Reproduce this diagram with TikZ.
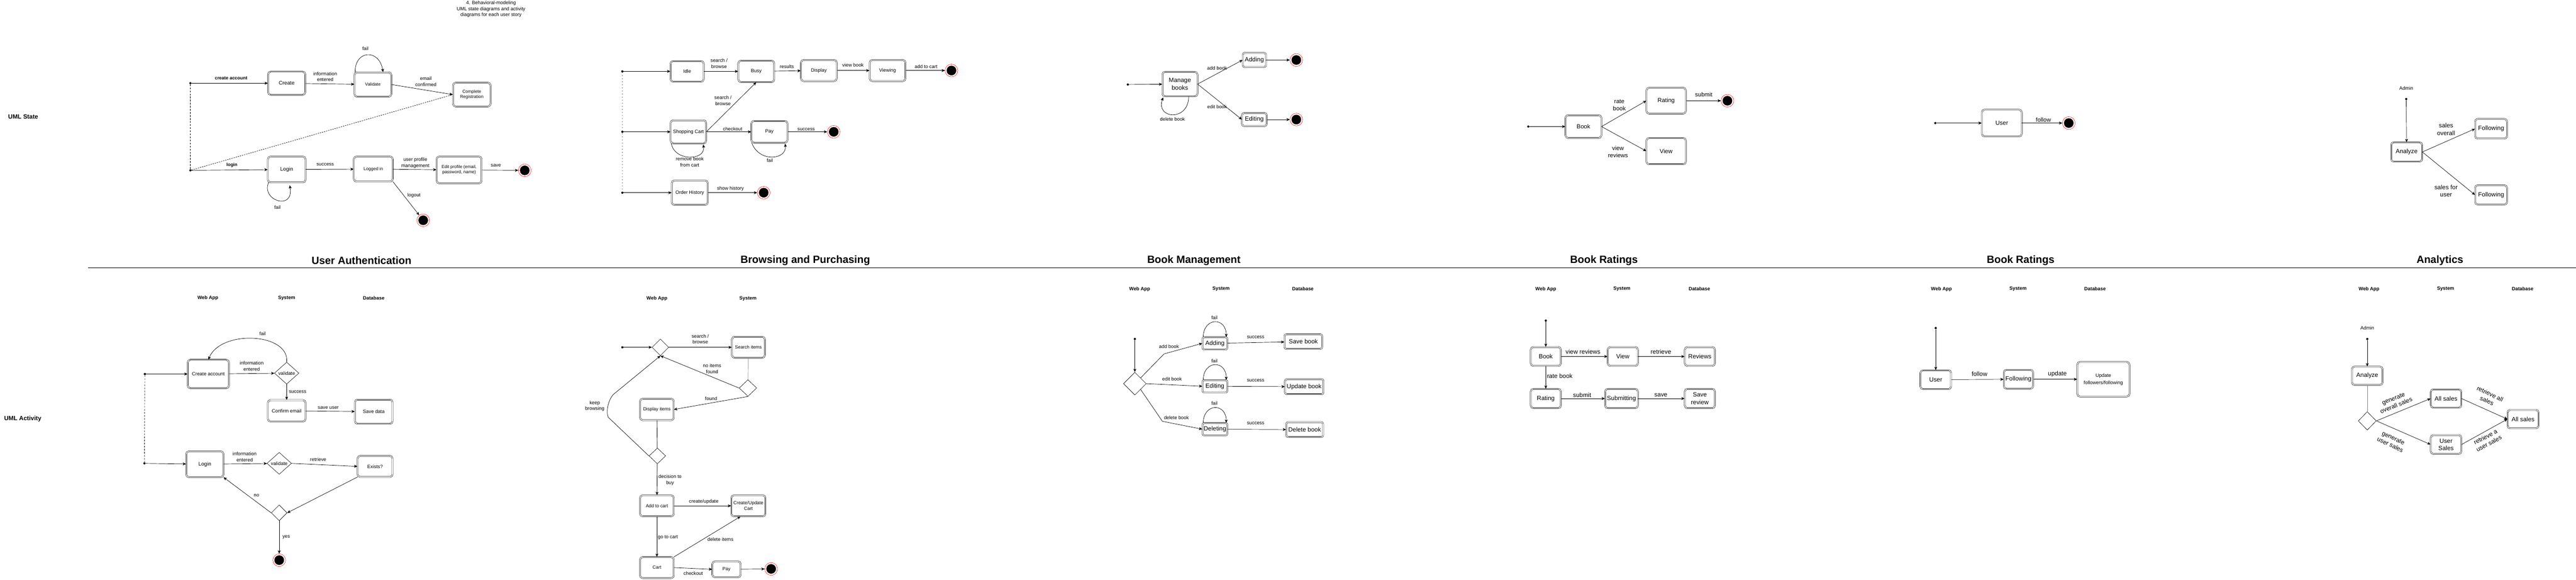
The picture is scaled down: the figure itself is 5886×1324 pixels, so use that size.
\documentclass[tikz,border=0pt]{standalone}
\usepackage{fontspec}
\setmainfont{Liberation Sans}
\usetikzlibrary{arrows.meta,shapes.geometric,positioning}
\newcommand\ftA{\fontsize{10}{12}\selectfont}
\newcommand\ftAh{\fontsize{10.5}{13}\selectfont}
\newcommand\ftB{\fontsize{11}{13.5}\selectfont}
\newcommand\ftC{\fontsize{12}{14.5}\selectfont}
\newcommand\ftD{\fontsize{13.5}{16.5}\selectfont}
\newcommand\ftE{\fontsize{14}{17}\selectfont}
\tikzset{
  box/.style={draw, line width=0.7pt, double, double distance=1.8pt, rounded corners=6pt, fill=white, align=center, inner sep=1pt, font=\ftB},
  wh/.style 2 args={minimum width=#1pt, minimum height=#2pt},
  bar/.style={draw=gray!90, line width=2.4pt, shorten <=5pt, shorten >=5pt},
  barh/.style={append after command={(\tikzlastnode.north west) edge[bar] (\tikzlastnode.north east) (\tikzlastnode.south west) edge[bar] (\tikzlastnode.south east)}},
  barb/.style={append after command={(\tikzlastnode.south west) edge[bar] (\tikzlastnode.south east)}},
  barv/.style={append after command={(\tikzlastnode.north west) edge[bar] (\tikzlastnode.south west) (\tikzlastnode.north east) edge[bar] (\tikzlastnode.south east)}},
  init/.style={circle, fill=black, inner sep=0pt, minimum size=5pt},
  final/.style={circle, draw=red, line width=0.6pt, fill=white, inner sep=0pt, minimum size=29pt, path picture={\fill[black] (path picture bounding box.center) circle (11pt);}},
  choice/.style={diamond, draw, line width=0.7pt, fill=white, inner sep=0pt, align=center, font=\ftB},
  lbl/.style={align=center, inner sep=1pt, font=\ftB},
  hd/.style={font=\ftB\bfseries},
  ttl/.style={font=\fontsize{24}{28}\selectfont\bfseries},
  flow/.style={line width=0.8pt, -{Stealth[length=7.5pt, width=6.5pt, inset=2pt]}},
  link/.style={line width=0.8pt}
}
\begin{document}
\begin{tikzpicture}[x=1pt, y=-1pt]
        \useasboundingbox (0,0) rectangle (5886,1324);
        \node[lbl] (header) at (1122,21) {4. Behavioral-modeling\\UML state diagrams and activity\\diagrams for each user story};
        \node[font=\ftE\bfseries] (umlstate) at (53,266) {UML State};
        \node[font=\ftE\bfseries] (umlactivity) at (52,956) {UML Activity};
        \draw[link] (201,611) -- (5886,611);
        \node[ttl] (ttlauth) at (826,595) {User Authentication};
        \node[ttl] (ttlbrowse) at (1840,595) {Browsing and Purchasing};
        \node[ttl] (ttlbooks) at (2728,595) {Book Management};
        \node[ttl] (ttlrate) at (3665,595) {Book Ratings};
        \node[ttl] (ttlfollow) at (4617,595) {Book Ratings};
        \node[ttl] (ttlstats) at (5575,595) {Analytics};

        \node[init] (ua1) at (435,190) {};
        \node[init] (ua2) at (435,389) {};
        \node[box, wh={85}{53}, barh, font=\ftC] (create) at (655,190) {Create};
        \node[box, wh={84}{56}, barb, font=\ftA] (validate) at (852,193) {Validate};
        \node[box, wh={86}{54}, font=\ftA] (complete) at (1078,216) {Complete\\Registration};
        \node[box, wh={86}{59}, font=\ftC] (login) at (655,387) {Login};
        \node[box, wh={89}{57}, font=\ftA] (loggedin) at (853,386) {Logged in};
        \node[box, wh={103}{61}, font=\ftA] (editprofile) at (1049,388) {Edit profile (email,\\password, name)};
        \node[final] (uaend1) at (1199,389) {};
        \node[final] (uaend2) at (967,503) {};
        \draw[link, dash pattern=on 4pt off 3pt] (ua1) -- (ua2);
        \draw[flow] (ua1) -- (create);
        \draw[flow] (create) -- (validate);
        \draw[flow] (validate.east) -- (complete.west);
        \draw[link, dash pattern=on 3pt off 2pt] (ua2) -- (complete.west);
        \draw[flow] (ua2) -- (login);
        \draw[flow] (login) -- (loggedin);
        \draw[flow] (loggedin) -- (editprofile);
        \draw[flow] (editprofile) -- (uaend1);
        \draw[flow] (loggedin.south east) -- (uaend2);
        \draw[flow] ([xshift=2pt]validate.north west) .. controls (810,115) and (866,110) .. ([xshift=-19pt]validate.north east);
        \draw[flow] ([xshift=2pt]login.south west) .. controls (596,458) and (672,482) .. (662,423);
        \node[lbl, font=\ftAh\bfseries] (lblcreate) at (528,178) {create account};
        \node[lbl] (lblinfo) at (743,175) {information\\entered};
        \node[lbl] (lblfail) at (835,111) {fail};
        \node[lbl] (lblemail) at (973,186) {email\\confirmed};
        \node[lbl, font=\ftAh\bfseries] (lbllogin) at (530,377) {login};
        \node[lbl] (lblsuccess) at (743,376) {success};
        \node[lbl] (lblprofile) at (949,372) {user profile\\management};
        \node[lbl] (lblsave) at (1133,378) {save};
        \node[lbl] (lbllogout) at (946,446) {logout};
        \node[lbl] (lblfail2) at (634,474) {fail};

        \node[init] (br1) at (1422,163) {};
        \node[init] (br2) at (1422,301) {};
        \node[init] (br3) at (1422,440) {};
        \node[box, wh={76}{47}, barh] (idle) at (1570,163) {Idle};
        \node[box, wh={82}{49}, barh] (busy) at (1728,163) {Busy};
        \node[box, wh={82}{48}] (display) at (1871,161) {Display};
        \node[box, wh={82}{48}] (viewing) at (2028,161) {Viewing};
        \node[final] (brend1) at (2174,161) {};
        \node[box, wh={81}{53}, barb] (cart) at (1573,301) {Shopping Cart};
        \node[box, wh={82}{50}, barh] (pay) at (1758,301) {Pay};
        \node[final] (brend2) at (1905,301) {};
        \node[box, wh={82}{56}] (history) at (1576,440) {Order History};
        \node[final] (brend3) at (1745,440) {};
        \draw[line width=1.6pt, line cap=round, dash pattern=on 0pt off 7pt] (br1) -- (br3);
        \draw[flow] (br1) -- (idle);
        \draw[flow] (idle) -- (busy);
        \draw[flow] (busy) -- (display);
        \draw[flow] (display) -- (viewing);
        \draw[flow] (viewing) -- (brend1);
        \draw[flow] (br2) -- (cart);
        \draw[flow] (cart.east) -- (busy.south);
        \draw[flow] (cart) -- (pay);
        \draw[flow] (pay) -- (brend2);
        \draw[flow] (br3) -- (history);
        \draw[flow] (history) -- (brend3);
        \draw[flow] ([xshift=2pt]cart.south west) .. controls (1540,368) and (1612,368) .. (1607,330);
        \draw[flow] ([xshift=1pt]pay.south west) .. controls (1735,372) and (1798,365) .. (1794,328);
        \node[lbl] (lblsearch) at (1643,145) {search /\\browse};
        \node[lbl] (lblresults) at (1798,152) {results};
        \node[lbl] (lblview) at (1949,149) {view book};
        \node[lbl] (lbladd) at (2116,152) {add to cart};
        \node[lbl] (lblsearch2) at (1652,230) {search /\\browse};
        \node[lbl] (lblcheckout) at (1674,294) {checkout};
        \node[lbl] (lblpaid) at (1842,295) {success};
        \node[lbl] (lblremove) at (1576,370) {remove book\\from cart};
        \node[lbl] (lblpayfail) at (1759,366) {fail};
        \node[lbl] (lblhistory) at (1669,431) {show history};

        \node[init] (bm0) at (2577,193) {};
        \node[box, wh={80}{56}, barh, font=\ftE] (manage) at (2696,192) {Manage\\books};
        \node[box, wh={53}{32}, rounded corners=4pt, font=\ftE] (adding) at (2866,137) {Adding};
        \node[box, wh={56}{29}, rounded corners=4pt, font=\ftE] (editing) at (2866,273) {Editing};
        \node[final] (bmend1) at (2962,137) {};
        \node[final] (bmend2) at (2962,273) {};
        \draw[flow] (bm0) -- (manage);
        \draw[flow] (manage.east) -- (adding.west);
        \draw[flow] (manage.east) -- (editing.west);
        \draw[flow] (adding) -- (bmend1);
        \draw[flow] (editing) -- (bmend2);
        \draw[flow] ([xshift=20pt]manage.south) .. controls (2716,278) and (2640,272) .. ([xshift=2pt, yshift=-2pt]manage.south west);
        \node[lbl] (lbladdbook) at (2781,155) {add book};
        \node[lbl] (lbleditbook) at (2781,244) {edit book};
        \node[lbl] (lbldelbook) at (2679,272) {delete book};

        \node[init] (rt0) at (3492,289) {};
        \node[box, wh={82}{52}, font=\ftD] (book) at (3618,289) {Book};
        \node[box, wh={90}{59}, font=\ftD] (rating) at (3807,230) {Rating};
        \node[box, wh={90}{60}, barh, font=\ftD] (view) at (3807,345) {View};
        \node[final] (rtend) at (3947,230) {};
        \draw[flow] (rt0) -- (book);
        \draw[flow] (book.east) -- (rating.west);
        \draw[flow] (book.east) -- (view.west);
        \draw[flow] (rating) -- (rtend);
        \node[lbl, font=\ftD] (lblrate) at (3700,240) {rate\\book};
        \node[lbl, font=\ftD] (lblreviews) at (3697,347) {view\\reviews};
        \node[lbl, font=\ftD] (lblsubmit) at (3893,216) {submit};
        \node[init] (fw0) at (4422,281) {};
        \node[box, wh={91}{61}, font=\ftD] (user) at (4574,281) {User};
        \node[final] (fwend) at (4727,281) {};
        \draw[flow] (fw0) -- (user);
        \draw[flow] (user) -- (fwend);
        \node[lbl, font=\ftD] (lblfollow) at (4669,273) {follow};

        \node[lbl] (admin) at (5498,201) {Admin};
        \node[init] (an0) at (5498,226) {};
        \node[box, wh={71}{44}, barh, barv, font=\ftE] (analyze) at (5499,347) {Analyze};
        \node[box, wh={73}{45}, font=\ftE] (follow1) at (5692,294) {Following};
        \node[box, wh={73}{44}, font=\ftE] (follow2) at (5692,445) {Following};
        \draw[flow] (an0) -- (analyze);
        \draw[flow] (analyze.east) -- (follow1.west);
        \draw[flow] (analyze.east) -- (follow2.west);
        \node[lbl, font=\ftE] (lbloverall) at (5589,295) {sales\\overall};
        \node[lbl, font=\ftE] (lblforuser) at (5589,436) {sales for\\user};

        \foreach \grp/\xa/\xb/\xc/\yy in {ua/475/655/854/681, bm/2604/2790/2977/660, rt/3532/3706/3883/660, fw/4436/4611/4787/660, an/5413/5588/5764/660}{
          \node[hd] (\grp webapp) at (\xa,\yy) {Web App};
          \node[hd] (\grp system) at (\xb,\yy) {System};
          \node[hd] (\grp database) at (\xc,\yy) {Database};
        }
        \node[hd] (brwebapp) at (1501,682) {Web App};
        \node[hd] (brsystem) at (1709,682) {System};

        \node[init] (uaa1) at (331,854) {};
        \node[init] (uaa2) at (330,1058) {};
        \node[box, wh={94}{65}, barh] (createacc) at (476,854) {Create account};
        \node[choice, wh={56}{50}] (check1) at (655,852) {validate};
        \node[box, wh={86}{49}] (confirm) at (655,938) {Confirm email};
        \node[box, wh={86}{55}, barh] (savedata) at (854,940) {Save data};
        \node[box, wh={85}{59}, font=\ftC] (loginA) at (468,1060) {Login};
        \node[choice, wh={56}{50}] (check2) at (638,1058) {validate};
        \node[box, wh={80}{48}] (exists) at (857,1065) {Exists?};
        \node[choice, wh={36}{36}] (merge) at (638,1171) {};
        \node[final] (uaaend) at (638,1279) {};
        \draw[link, dash pattern=on 4pt off 3pt] (uaa1) -- (uaa2);
        \draw[flow] (uaa1) -- (createacc);
        \draw[flow] (createacc) -- (check1);
        \draw[flow] (check1) -- (confirm);
        \draw[flow] (confirm) -- (savedata);
        \draw[flow] (check1.north) .. controls (662,760) and (505,752) .. (createacc.north);
        \draw[flow] (uaa2) -- (loginA);
        \draw[flow] (loginA) -- (check2);
        \draw[flow] (check2.east) -- (exists.west);
        \draw[flow] (exists.south west) -- (merge.east);
        \draw[flow] (merge.west) -- (loginA.south east);
        \draw[flow] (merge) -- (uaaend);
        \node[lbl] (lblfail3) at (600,762) {fail};
        \node[lbl] (lblinfo2) at (575,836) {information\\entered};
        \node[lbl] (lblsuccess2) at (680,895) {success};
        \node[lbl] (lblsaveuser) at (750,931) {save user};
        \node[lbl] (lblinfo3) at (559,1043) {information\\entered};
        \node[lbl] (lblretrieve) at (727,1049) {retrieve};
        \node[lbl] (lblno) at (586,1131) {no};
        \node[lbl] (lblyes) at (654,1226) {yes};

        \node[init] (bb0) at (1422,793) {};
        \node[choice, wh={38}{38}] (seek) at (1509,793) {};
        \node[box, wh={75}{48}, barh, font=\ftAh] (searchitems) at (1710,793) {Search items};
        \node[choice, wh={40}{38}] (found) at (1709,886) {};
        \node[box, wh={77}{49}, font=\ftAh] (displayitems) at (1501,935) {Display items};
        \node[choice, wh={38}{36}] (decide) at (1502,1041) {};
        \node[box, wh={77}{48}, font=\ftAh] (addcart) at (1501,1155) {Add to cart};
        \node[box, wh={78}{48}, barv, font=\ftAh] (updcart) at (1710,1155) {Create/Update\\Cart};
        \node[box, wh={77}{48}, font=\ftAh] (cartA) at (1501,1296) {Cart};
        \node[box, wh={65}{36}, font=\ftAh] (payA) at (1660,1300) {Pay};
        \node[final] (bbend) at (1762,1299) {};
        \draw[flow] (bb0) -- (seek);
        \draw[flow] (seek) -- (searchitems);
        \draw[link, draw=gray] (searchitems) -- (found);
        \draw[flow] (found.west) -- (seek.south);
        \draw[flow] (found.south) -- (displayitems.east);
        \draw[link] (displayitems) -- (decide);
        \draw[flow] (decide.west) -- (1390,953) .. controls (1384,942) and (1389,915) .. (1401,901) -- (seek.south);
        \draw[flow] (decide) -- (addcart);
        \draw[flow] (addcart) -- (updcart);
        \draw[flow] (addcart) -- (cartA);
        \draw[flow] (cartA.north east) -- ([xshift=-18pt]updcart.south);
        \draw[flow] (cartA.east) -- (payA.west);
        \draw[flow] (payA) -- (bbend);
        \node[lbl] (lblsearch3) at (1600,774) {search /\\browse};
        \node[lbl] (lblnoitems) at (1627,842) {no items\\found};
        \node[lbl] (lblfound) at (1625,910) {found};
        \node[lbl] (lblkeep) at (1359,927) {keep\\browsing};
        \node[lbl] (lbldecision) at (1531,1096) {decision to\\buy};
        \node[lbl] (lblupdate) at (1608,1146) {create/update};
        \node[lbl] (lblgocart) at (1526,1227) {go to cart};
        \node[lbl] (lbldelitems) at (1646,1232) {delete items};
        \node[lbl] (lblcheckout2) at (1584,1309) {checkout};

        \node[init] (bmd0) at (2593,774) {};
        \node[choice, wh={52}{52}] (pick) at (2593,876) {};
        \node[box, wh={57}{28}, rounded corners=4pt, barh, font=\ftE] (addingA) at (2776,784) {Adding};
        \node[box, wh={57}{28}, rounded corners=4pt, font=\ftE] (editingA) at (2776,882) {Editing};
        \node[box, wh={57}{28}, rounded corners=4pt, font=\ftE] (deletingA) at (2776,980) {Deleting};
        \node[box, wh={86}{33}, rounded corners=4pt, barb, font=\ftE] (savebook) at (2978,780) {Save book};
        \node[box, wh={88}{34}, rounded corners=4pt, barb, font=\ftE] (updbook) at (2980,883) {Update book};
        \node[box, wh={84}{34}, rounded corners=4pt, barb, font=\ftE] (delbook) at (2981,981) {Delete book};
        \draw[flow] (bmd0) -- (pick);
        \draw[flow] (pick.north east) -- (2660,808) -- (addingA.west);
        \draw[flow] (pick.east) -- (editingA.west);
        \draw[flow] (pick.south east) -- (2656,962) -- (deletingA.west);
        \draw[flow] (addingA) -- (savebook);
        \draw[flow] (editingA) -- (updbook);
        \draw[flow] (deletingA) -- (delbook);
        \foreach \st in {addingA, editingA, deletingA}
          \draw[flow] ([xshift=2pt]\st.north west) .. controls ([xshift=3pt, yshift=46pt]\st.north west) and ([xshift=-3pt, yshift=46pt]\st.north east) .. ([xshift=-3pt]\st.north east);
        \foreach \k/\yy in {1/725, 2/824, 3/921}{
          \node[lbl] (lblbmfail\k) at (2775,\yy) {fail};
          \node[lbl] (lblbmok\k) at (2869,\yy+45) {success};
        }
        \node[lbl] (lbladdbook2) at (2671,791) {add book};
        \node[lbl] (lbleditbook2) at (2678,865) {edit book};
        \node[lbl] (lbldelbook2) at (2688,954) {delete book};

        \node[init] (rta0) at (3532,732) {};
        \node[box, wh={69}{43}, font=\ftE] (bookA) at (3532,814) {Book};
        \node[box, wh={69}{43}, font=\ftE] (viewA) at (3708,814) {View};
        \node[box, wh={69}{43}, font=\ftE] (reviews) at (3884,814) {Reviews};
        \node[box, wh={69}{44}, barh, font=\ftE] (ratingA) at (3532,910) {Rating};
        \node[box, wh={75}{44}, barh, font=\ftE] (submitting) at (3705,910) {Submitting};
        \node[box, wh={69}{44}, barh, font=\ftE] (savereview) at (3884,910) {Save\\review};
        \draw[flow] (rta0) -- (bookA);
        \draw[flow] (bookA) -- (viewA);
        \draw[flow] (viewA) -- (reviews);
        \draw[flow] (bookA) -- (ratingA);
        \draw[flow] (ratingA) -- (submitting);
        \draw[flow] (submitting) -- (savereview);
        \node[lbl, font=\ftE] (lblviewrev) at (3617,803) {view reviews};
        \node[lbl, font=\ftE] (lblgetrev) at (3795,803) {retrieve};
        \node[lbl, font=\ftE] (lblratebook) at (3564,859) {rate book};
        \node[lbl, font=\ftE] (lblsubmit2) at (3615,902) {submit};
        \node[lbl, font=\ftE] (lblsave2) at (3795,902) {save};

        \node[init] (fwa0) at (4423,749) {};
        \node[box, wh={70}{43}, barh, font=\ftE] (userA) at (4423,867) {User};
        \node[box, wh={67}{43}, barh, font=\ftE] (following) at (4612,866) {Following};
        \node[box, wh={119}{79}] (updfollow) at (4806,866) {Update\\[3pt]followers/following};
        \draw[flow] (fwa0) -- (userA);
        \draw[flow] (userA) -- (following);
        \draw[flow] (following) -- (updfollow);
        \node[lbl, font=\ftE] (lblfollow2) at (4523,854) {follow};
        \node[lbl, font=\ftE] (lblupdfollow) at (4701,854) {update};

        \node[lbl] (adminA) at (5409,749) {Admin};
        \node[init] (ana0) at (5409,774) {};
        \node[box, wh={70}{42}, font=\ftE] (analyzeA) at (5409,858) {Analyze};
        \node[choice, wh={41}{42}] (split) at (5409,961) {};
        \node[box, wh={70}{42}, barh, barv, font=\ftE] (allsales) at (5589,910) {All sales};
        \node[box, wh={70}{43}, font=\ftE] (usersales) at (5589,1015) {User\\Sales};
        \node[box, wh={71}{42}, barv, font=\ftE] (salesdb) at (5765,957) {All sales};
        \draw[flow] (ana0) -- (analyzeA);
        \draw[link, draw=gray] (analyzeA) -- (split);
        \draw[flow] (split.east) -- (allsales.west);
        \draw[flow] (split.east) -- (usersales.west);
        \draw[flow] (allsales.east) -- (salesdb.west);
        \draw[flow] (usersales.east) -- (salesdb.west);
        \node[lbl, font=\ftE, rotate=22] (lblgenall) at (5472,918) {generate\\overall sales};
        \node[lbl, font=\ftE, rotate=-25] (lblgenuser) at (5465,1008) {generate\\user sales};
        \node[lbl, font=\ftE, rotate=-25] (lblgetall) at (5686,907) {retrieve all\\sales};
        \node[lbl, font=\ftE, rotate=28] (lblgetuser) at (5683,1005) {retrieve a\\user sales};
\end{tikzpicture}
\end{document}
